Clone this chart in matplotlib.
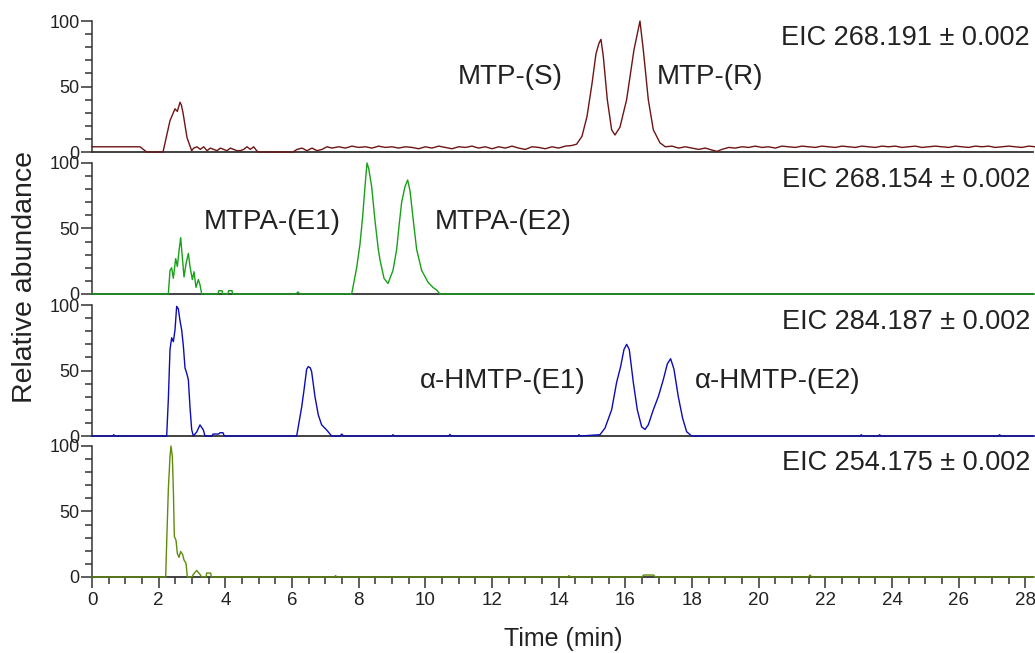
import matplotlib
matplotlib.use("Agg")
import matplotlib.pyplot as plt
from matplotlib.ticker import MultipleLocator

plt.rcParams['font.family'] = ['Liberation Sans', 'DejaVu Sans']

# (time in min, relative abundance)
mtp = [(0, 4), (1.44, 4), (1.64, 0), (2.13, 0), (2.34, 24), (2.49, 33), (2.56, 31),
       (2.64, 38), (2.68, 36), (2.73, 30), (2.85, 11), (2.99, 1),
       (3.05, 3), (3.15, 4), (3.25, 2), (3.35, 4), (3.45, 1), (3.55, 3), (3.65, 2),
       (3.75, 1), (3.85, 3), (3.95, 2), (4.05, 1), (4.15, 3), (4.25, 2), (4.35, 1),
       (4.45, 1), (4.55, 2), (4.65, 4), (4.75, 2), (4.85, 4), (4.94, 1), (5.0, 0),
       (6.03, 0), (6.15, 2), (6.3, 3), (6.45, 1), (6.6, 3), (6.75, 1), (6.9, 2),
       (7.05, 4), (7.2, 3), (7.4, 4), (7.6, 3), (7.8, 4.5), (8.0, 3.5), (8.2, 4),
       (8.4, 3), (8.6, 4.5), (8.8, 3.5), (9.0, 4), (9.2, 3), (9.4, 4), (9.6, 3.5),
       (9.8, 2.5), (10.0, 4), (10.2, 3), (10.4, 4.5), (10.6, 3.5), (10.8, 2.5),
       (11.0, 4), (11.2, 3.5), (11.4, 4.5), (11.6, 3), (11.8, 4), (12.0, 2.5),
       (12.2, 4), (12.4, 3), (12.6, 4.5), (12.8, 3), (13.0, 2), (13.2, 4),
       (13.4, 3.5), (13.6, 2.5), (13.8, 4), (14.0, 3), (14.2, 4.5), (14.4, 5),
       (14.54, 6), (14.7, 12), (14.85, 27), (15.0, 52), (15.12, 75), (15.21, 83),
       (15.27, 86), (15.34, 73), (15.46, 40), (15.59, 17), (15.69, 13), (15.84, 19),
       (16.04, 40), (16.26, 78), (16.36, 90), (16.44, 100), (16.54, 78), (16.69, 40),
       (16.84, 17), (17.04, 7), (17.2, 4), (17.4, 4.5), (17.6, 3), (17.8, 4),
       (18.0, 3), (18.2, 2), (18.4, 3), (18.6, 1.5), (18.75, 0.5), (18.9, 2),
       (19.1, 3.5), (19.3, 3), (19.5, 4), (19.7, 3.5), (19.9, 4.5), (20.1, 3.5),
       (20.3, 4), (20.5, 3), (20.7, 4.5), (20.9, 4), (21.1, 3.5), (21.3, 4.5),
       (21.5, 4), (21.7, 3.5), (21.9, 4.5), (22.1, 4), (22.3, 3.5), (22.5, 4.5),
       (22.7, 4), (22.9, 3.5), (23.1, 4.5), (23.3, 4), (23.5, 3.5), (23.7, 4.5),
       (23.9, 4), (24.1, 4.5), (24.3, 3.5), (24.5, 4), (24.7, 4.5), (24.9, 3.5),
       (25.1, 4), (25.3, 4.5), (25.5, 4), (25.7, 3.5), (25.9, 4.5), (26.1, 4),
       (26.3, 3.5), (26.5, 4.5), (26.7, 4), (26.9, 4.5), (27.1, 3.5), (27.3, 4),
       (27.5, 4.5), (27.7, 4), (27.9, 3.5), (28.1, 4.5), (28.3, 4)]

mtpa = [(0, 0), (2.29, 0), (2.34, 18), (2.39, 20), (2.44, 12), (2.51, 27), (2.56, 21),
        (2.62, 35), (2.66, 43), (2.71, 28), (2.76, 13), (2.82, 23), (2.89, 31),
        (2.94, 21), (3.01, 11), (3.06, 17), (3.12, 5), (3.19, 11), (3.24, 7),
        (3.29, 0), (3.78, 0), (3.8, 2.5), (3.9, 2.5), (3.92, 0), (4.08, 0),
        (4.1, 2.5), (4.2, 2.5), (4.22, 0), (6.12, 0), (6.18, 1.5), (6.24, 0),
        (7.79, 0), (7.94, 20), (8.04, 38), (8.12, 59), (8.19, 82), (8.25, 100),
        (8.30, 96), (8.39, 82), (8.49, 56), (8.59, 34), (8.64, 26), (8.76, 12),
        (8.88, 8), (9.03, 18), (9.14, 34), (9.22, 54), (9.29, 70), (9.39, 82),
        (9.47, 87), (9.54, 79), (9.64, 56), (9.74, 34), (9.89, 18), (10.08, 9),
        (10.23, 5), (10.34, 3), (10.44, 0), (28.3, 0)]

hmtp = [(0, 0), (0.62, 0), (0.65, 1), (0.68, 0), (2.24, 0), (2.29, 28), (2.34, 66),
        (2.39, 75), (2.44, 72), (2.49, 81), (2.54, 99), (2.59, 97), (2.64, 88),
        (2.69, 81), (2.74, 69), (2.79, 52), (2.84, 48), (2.89, 43), (2.94, 22),
        (2.99, 5), (3.04, 0), (3.14, 3), (3.24, 8.5), (3.34, 4.6), (3.39, 0),
        (3.6, 0), (3.63, 1.5), (3.8, 1.5), (3.84, 2.5), (3.93, 2.5), (3.97, 0),
        (6.14, 0), (6.29, 22), (6.36, 35), (6.44, 51), (6.49, 53), (6.55, 52),
        (6.59, 49), (6.69, 30), (6.79, 16), (6.89, 8.5), (7.04, 4.6), (7.19, 0),
        (7.45, 0), (7.49, 1.5), (7.55, 0), (9.0, 0), (9.03, 1), (9.07, 0),
        (10.7, 0), (10.74, 1.2), (10.78, 0), (14.58, 0), (14.61, 1), (14.65, 0),
        (15.24, 1), (15.39, 6), (15.59, 20), (15.74, 41), (15.86, 53), (15.96, 66),
        (16.04, 70), (16.12, 66), (16.24, 41), (16.36, 20), (16.49, 7), (16.59, 5),
        (16.69, 8.5), (16.84, 20), (16.99, 30), (17.14, 43), (17.26, 55),
        (17.36, 59), (17.46, 51), (17.59, 30), (17.72, 13.6), (17.84, 3.3),
        (17.99, 0), (23.05, 0), (23.08, 1), (23.12, 0), (23.6, 0), (23.63, 1),
        (23.67, 0), (27.2, 0), (27.23, 1), (27.27, 0), (28.3, 0)]

eic254 = [(0, 0), (2.21, 0), (2.24, 26), (2.29, 67), (2.34, 92), (2.37, 100),
          (2.41, 92), (2.44, 67), (2.47, 31), (2.52, 28), (2.56, 18), (2.61, 15),
          (2.66, 19.5), (2.72, 17), (2.76, 13), (2.82, 10.5), (2.86, 0), (3.0, 0),
          (3.04, 2), (3.14, 5), (3.24, 2), (3.29, 0), (3.42, 0), (3.44, 3),
          (3.56, 3), (3.58, 0), (7.28, 0), (7.3, 1), (7.36, 0), (14.28, 0),
          (14.3, 1), (14.38, 0), (16.5, 0), (16.55, 1.5), (16.85, 1.5), (16.9, 0),
          (21.5, 0), (21.54, 1.5), (21.6, 0), (28.3, 0)]

traces = [mtp, mtpa, hmtp, eic254]
colors = ['#6e1414', '#18a018', '#0c0cb4', '#5f8c0a']
eic_labels = ['EIC 268.191 \u00b1 0.002', 'EIC 268.154 \u00b1 0.002',
              'EIC 284.187 \u00b1 0.002', 'EIC 254.175 \u00b1 0.002']
# peak labels: (panel, time, abundance, text)
peak_labels = [(0, 12.54, 57, 'MTP-(S)'), (0, 18.54, 57, 'MTP-(R)'),
               (1, 5.4, 55, 'MTPA-(E1)'), (1, 12.33, 55, 'MTPA-(E2)'),
               (2, 12.33, 42, '\u03b1-HMTP-(E1)'), (2, 20.58, 42, '\u03b1-HMTP-(E2)')]

fig = plt.figure(figsize=(10.35, 6.53), dpi=100)
bottoms = [0.7672, 0.5498, 0.3323, 0.1164]
axes = []
for i, b in enumerate(bottoms):
    ax = fig.add_axes([0.0889, b, 0.9091, 0.2006])
    t, y = zip(*traces[i])
    ax.plot(t, y, color=colors[i], lw=1.0, clip_on=False, zorder=3)
    ax.set_xlim(0, 28.23)
    ax.set_ylim(0, 100)
    ax.patch.set_alpha(0)
    for s in ['top', 'right']:
        ax.spines[s].set_visible(False)
    ax.spines['left'].set_color('#333333')
    ax.spines['bottom'].set_color('#333333')
    ax.spines['left'].set_linewidth(1.1)
    ax.spines['bottom'].set_linewidth(1.3)
    ax.yaxis.set_major_locator(MultipleLocator(50))
    ax.yaxis.set_minor_locator(MultipleLocator(10))
    ax.tick_params(axis='y', which='major', length=8, width=1.1, color='#333333',
                   labelsize=13, labelcolor='#222222', pad=1)
    ax.tick_params(axis='y', which='minor', length=5, width=1.1, color='#333333')
    ax.text(0.997, 0.87, eic_labels[i], transform=ax.transAxes, ha='right',
            va='center', fontsize=19.5, color='#222222')
    if i < 3:
        ax.tick_params(axis='x', which='both', bottom=False, labelbottom=False)
    else:
        ax.xaxis.set_major_locator(MultipleLocator(2))
        ax.xaxis.set_minor_locator(MultipleLocator(0.5))
        ax.tick_params(axis='x', which='major', length=8, width=1.1, color='#333333',
                       labelsize=13.5, labelcolor='#222222', pad=3)
        ax.tick_params(axis='x', which='minor', length=5, width=1.1, color='#333333')
    axes.append(ax)

for p, x, y, s in peak_labels:
    axes[p].text(x, y, s, ha='center', va='center', fontsize=20, color='#222222')

fig.text(0.024, 0.576, 'Relative abundance', rotation=90, ha='center', va='center',
         fontsize=20.5, color='#222222')
fig.text(0.544, 0.022, 'Time (min)', ha='center', va='center', fontsize=18,
         color='#222222')

fig.savefig('out.png', dpi=100)
